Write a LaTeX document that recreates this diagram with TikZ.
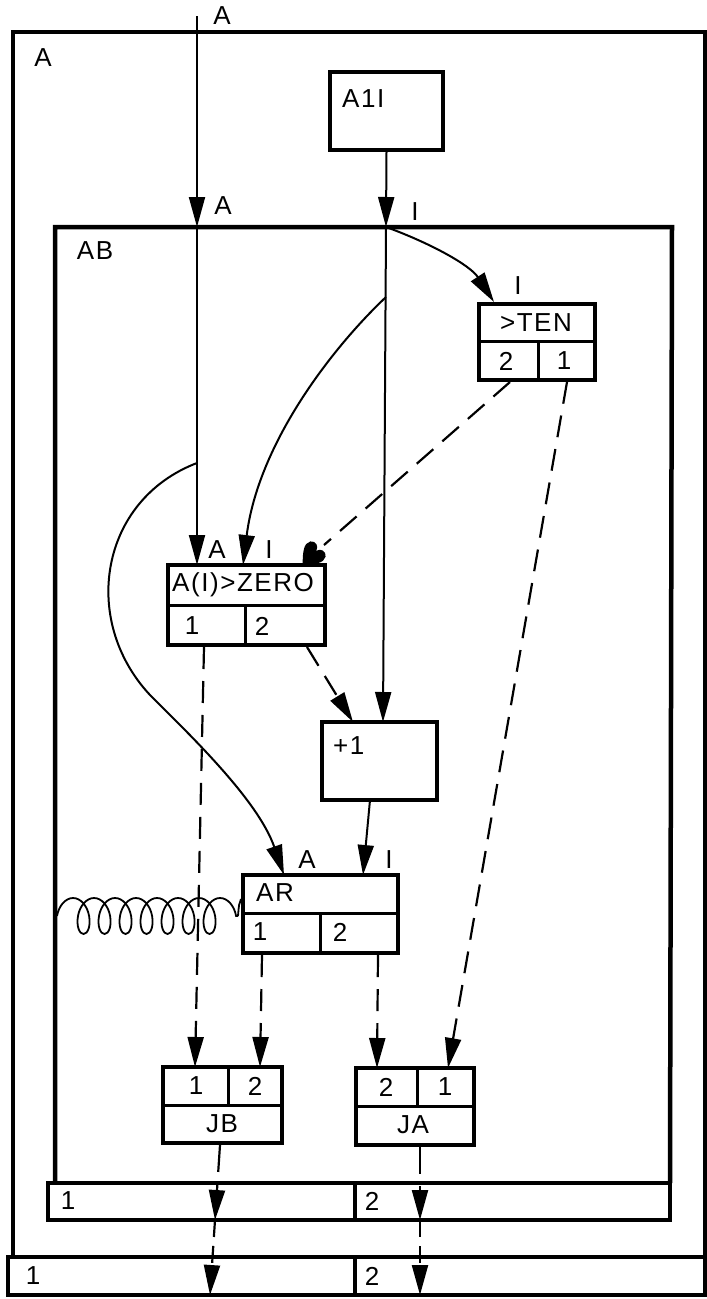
\documentclass[tikz,border=0pt]{standalone}
\usepackage{fontspec}
\setmainfont{Liberation Sans}
\newfontfamily\hand[LetterSpace=6]{Liberation Sans}
\usetikzlibrary{arrows.meta,fit,decorations.pathmorphing}
\begin{document}
\begin{tikzpicture}[x=1pt,y=-1pt,
  frame/.style={line width=4.5pt},
  box/.style={draw, line width=4pt, inner sep=0pt},
  cell/.style={line width=3pt},
  flow/.style={line width=2pt, -{Triangle[length=30pt,width=16pt]}},
  ctl/.style={line width=2.2pt, dash pattern=on 22pt off 12pt, -{Triangle[length=30pt,width=16pt]}},
  lbl/.style={font=\hand\fontsize{26}{26}\selectfont, inner sep=0pt},
]
\useasboundingbox (0,0) rectangle (707,1299);
\fill[white] (0,0) rectangle (707,1299);

% ---- outer frame A
\draw[frame] (13,1257) -- (13,32) -- (707,32);
\draw[frame] (705,32) -- (705,1295);
\draw[frame] (8,1257) rectangle (705,1295);
\draw[frame] (355,1257) -- (355,1295);
\node[lbl] (labA) at (43,58) {A};
\node[lbl] (labAtop) at (222,16) {A};
\node[lbl] (so1) at (33,1276) {1};
\node[lbl] (so2) at (372,1276) {2};

% ---- frame AB
\draw[frame] (55,1183) -- (55,227) -- (672,227) -- (670,1183);
\draw[frame] (48,1183) rectangle (670,1220);
\draw[frame] (355,1183) -- (355,1220);
\node[lbl] (labAB) at (95,251) {AB};
\node[lbl] (labAin) at (223,206) {A};
\node[lbl] (labIin) at (415,212) {I};
\node[lbl] (si1) at (68,1201) {1};
\node[lbl] (si2) at (372,1201) {2};

% ---- coordinates
\coordinate (atop) at (197,16);
\coordinate (ain) at (197,227);
\coordinate (iin) at (386,227);
\coordinate (ibr) at (386,297);
\coordinate (abr) at (197,463);

% ---- boxes
\coordinate (c1) at (330,72); \coordinate (c2) at (443,150);
\node[box, fit=(c1)(c2)] (a1i) {};
\node[lbl, anchor=west] (ta1i) at (342,99) {A1I};

\coordinate (c3) at (479,304); \coordinate (c4) at (595,380);
\node[box, fit=(c3)(c4)] (ten) {};
\draw[cell] (479,341) -- (595,341);
\draw[cell] (538,341) -- (538,380);
\node[lbl] (tten) at (536,323) {>TEN};
\node[lbl] (tten2) at (506,361) {2};
\node[lbl] (tten1) at (564,361) {1};
\node[lbl] (labIten) at (518,286) {I};

\coordinate (c5) at (168,565); \coordinate (c6) at (325,645);
\node[box, fit=(c5)(c6)] (zero) {};
\draw[cell] (168,605) -- (325,605);
\draw[cell] (245,605) -- (245,645);
\node[lbl, anchor=west] (tzero) at (172,585) {A(I)>ZERO};
\node[lbl] (tzero1) at (192,626) {1};
\node[lbl] (tzero2) at (262,626) {2};
\node[lbl] (labAz) at (217,550) {A};
\node[lbl] (labIz) at (269,550) {I};

\coordinate (c7) at (322,722); \coordinate (c8) at (437,800);
\node[box, fit=(c7)(c8)] (plus) {};
\node[lbl, anchor=west] (tplus) at (333,746) {+1};

\coordinate (c9) at (243,875); \coordinate (c10) at (398,953);
\node[box, fit=(c9)(c10)] (ar) {};
\draw[cell] (243,913) -- (398,913);
\draw[cell] (320,913) -- (320,953);
\node[lbl, anchor=west] (tar) at (256,893) {AR};
\node[lbl] (tar1) at (260,932) {1};
\node[lbl] (tar2) at (340,932) {2};
\node[lbl] (labAar) at (307,860) {A};
\node[lbl] (labIar) at (389,860) {I};

\coordinate (c11) at (163,1067); \coordinate (c12) at (282,1143);
\node[box, fit=(c11)(c12)] (jb) {};
\draw[cell] (163,1105) -- (282,1105);
\draw[cell] (228,1067) -- (228,1105);
\node[lbl] (tjb1) at (196,1086) {1};
\node[lbl] (tjb2) at (255,1086) {2};
\node[lbl] (tjb) at (222,1124) {JB};

\coordinate (c13) at (356,1068); \coordinate (c14) at (474,1145);
\node[box, fit=(c13)(c14)] (ja) {};
\draw[cell] (356,1106) -- (474,1106);
\draw[cell] (417,1068) -- (417,1106);
\node[lbl] (tja2) at (386,1087) {2};
\node[lbl] (tja1) at (445,1087) {1};
\node[lbl] (tja) at (413,1125) {JA};

% ---- data flow (solid)
\draw[flow] (atop) -- (ain);
\coordinate (zA) at (197,565);
\draw[flow] (ain) -- (zA);
\draw[flow] (a1i.south) -- (iin);
\coordinate (tenin) at (494,302);
\draw[flow] (iin) .. controls (430,243) and (470,265) .. (tenin);
\coordinate (zI) at (243,565);
\draw[flow] (ibr) .. controls (330,350) and (258,445) .. (zI);
\coordinate (pI) at (383,722);
\draw[flow] (iin) -- (pI);
\coordinate (pout) at (370,800);
\coordinate (arI) at (363,875);
\draw[flow] (pout) -- (arI);
\coordinate (arA) at (284,875);
\draw[flow] (abr) .. controls (100,500) and (80,620) .. (150,695)
                   .. controls (190,735) and (258,800) .. (arA);

% ---- coil
\coordinate (coilL) at (57,916);
\coordinate (coilR) at (238,916);
\draw[line width=1.8pt, decorate, decoration={coil, amplitude=18pt, segment length=21pt, aspect=0.6, post length=0pt, pre length=0pt}] (coilL) -- (coilR);
\draw[line width=1.8pt] (coilR) .. controls (239,904) .. (ar.west |- 0,899);

% ---- control flow (dashed)
\coordinate (ten2) at (510,382);
\coordinate (hrt) at (324,545);
\draw[line width=2.2pt, dash pattern=on 22pt off 12pt] (ten2) -- (hrt);
\begin{scope}[shift={(312,555)}, rotate=-45, x=12pt, y=12pt]
  \fill (0,-1.1) .. controls (-0.7,-0.4) and (-1.2,0.2) .. (-0.9,0.7)
        .. controls (-0.6,1.1) and (-0.1,0.9) .. (0,0.5)
        .. controls (0.1,0.9) and (0.6,1.1) .. (0.9,0.7)
        .. controls (1.2,0.2) and (0.7,-0.4) .. (0,-1.1) -- cycle;
\end{scope}
\coordinate (ten1) at (567,382);
\coordinate (ja1in) at (448,1068);
\draw[ctl] (ten1) -- (ja1in);
\coordinate (z2) at (307,647);
\coordinate (pd) at (353,722);
\draw[ctl] (z2) -- (pd);
\coordinate (z1) at (204,647);
\coordinate (jb1in) at (195,1067);
\draw[ctl] (z1) -- (jb1in);
\coordinate (ar1) at (262,955);
\coordinate (jb2in) at (260,1067);
\draw[ctl] (ar1) -- (jb2in);
\coordinate (ar2) at (378,955);
\coordinate (ja2in) at (377,1068);
\draw[ctl] (ar2) -- (ja2in);

% ---- outputs
\coordinate (jbo) at (220,1145);
\coordinate (jbs) at (215,1220);
\coordinate (jbf) at (210,1295);
\draw[ctl, dash pattern=on 27pt off 12pt] (jbo) -- (jbs);
\draw[ctl, dash pattern=on 17pt off 9pt] (jbs) -- (jbf);
\coordinate (jao) at (420,1147);
\coordinate (jas) at (420,1220);
\coordinate (jaf) at (420,1295);
\draw[ctl, dash pattern=on 27pt off 12pt] (jao) -- (jas);
\draw[ctl, dash pattern=on 17pt off 9pt] (jas) -- (jaf);
\end{tikzpicture}
\end{document}
